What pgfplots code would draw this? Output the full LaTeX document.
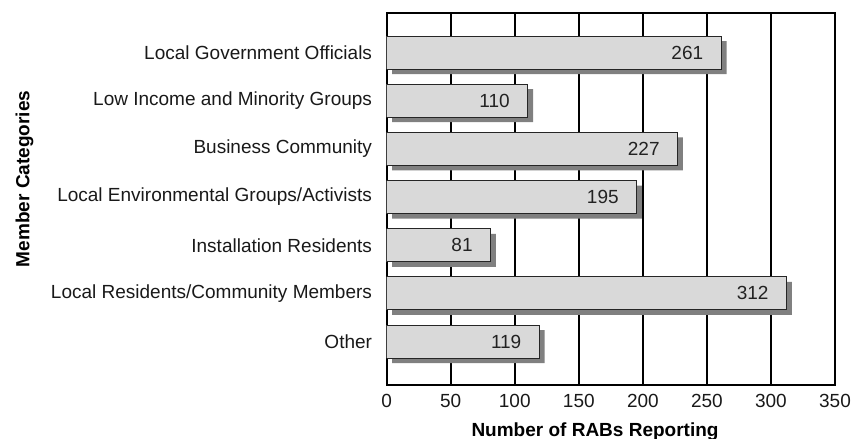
\documentclass[border=0pt]{standalone}
\usepackage{fontspec}
\setmainfont{Liberation Sans}
\usepackage{pgfplots}
\pgfplotsset{compat=1.18}
\definecolor{barfill}{HTML}{D9D9D9}
\definecolor{shadow}{HTML}{808080}
\definecolor{labtxt}{HTML}{222222}
\begin{document}
\begin{tikzpicture}
\useasboundingbox (-386.7bp,-54bp) rectangle (465.3bp,385bp);
\begin{axis}[
  scale only axis,
  width=448.3bp, height=372bp,
  xmin=0, xmax=350,
  ymin=-0.82, ymax=6.90,
  y dir=reverse,
  xtick={0,50,100,150,200,250,300,350},
  ytick={0,1,2,3,4,5,6},
  yticklabels={Local Government Officials,Low Income and Minority Groups,Business Community,Local Environmental Groups/Activists,Installation Residents,Local Residents/Community Members,Other},
  major tick length=0pt,
  xmajorgrids,
  grid style={black, line width=1.8bp},
  axis line style={black, line width=1.8bp},
  /pgf/number format/assume math mode=true,
  tick label style={font=\fontsize{19bp}{22bp}\selectfont, text=black!90},
  yticklabel style={inner sep=0pt, anchor=east, xshift=-14.5bp},
  xticklabel style={inner sep=0pt, anchor=north, yshift=-9bp},
  xlabel={\textbf{Number of RABs Reporting}},
  ylabel={\textbf{Member Categories}},
  xlabel style={font=\fontsize{19bp}{22bp}\selectfont, at={(axis description cs:0.4647,0)}, anchor=base, yshift=-51.7bp},
  ylabel style={font=\fontsize{19bp}{22bp}\selectfont, at={(axis description cs:-0.7968,0.554)}, anchor=base, rotate=0},
  bar width=33bp,
  axis on top=false,
]
\addplot[xbar, fill=shadow, draw=none, xshift=5.5bp, yshift=-5bp, forget plot] coordinates {
(261,0) (110,1) (227,2) (195,3) (81,4) (312,5) (119,6)
};
\addplot[xbar, fill=barfill, draw=black!85, line width=1bp,
  nodes near coords,
  nodes near coords style={anchor=east, xshift=-14bp, text=labtxt, font=\fontsize{19bp}{22bp}\selectfont},
  point meta=x] coordinates {
(261,0) (110,1) (227,2) (195,3) (81,4) (312,5) (119,6)
};
\end{axis}
\end{tikzpicture}
\end{document}
